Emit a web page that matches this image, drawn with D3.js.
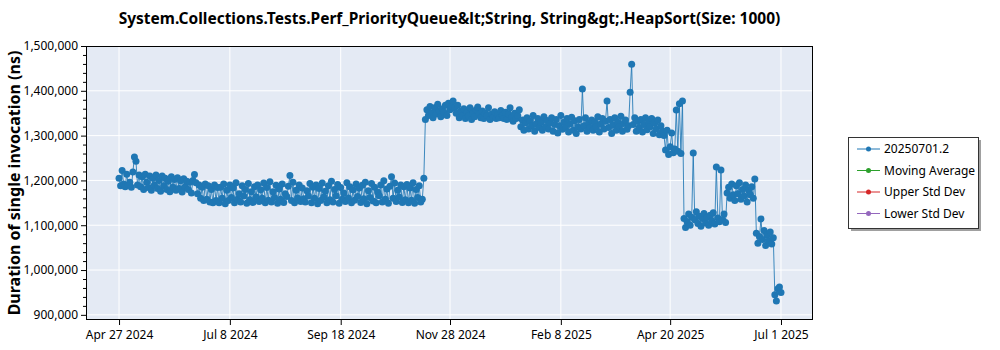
<!DOCTYPE html>
<html><head><meta charset="utf-8">
<script src="https://cdn.jsdelivr.net/npm/d3@7"></script>
<style>
body{margin:0;background:#fff;}
text{font-family:"Noto Sans","Open Sans",sans-serif;}
</style>
</head><body>
<svg id="chart" width="1000" height="350"></svg>
<script>
const chartTitle = "System.Collections.Tests.Perf_PriorityQueue&lt;String, String&gt;.HeapSort(Size: 1000)";
const yAxisTitle = "Duration of single invocation (ns)";
const seriesNames = ["20250701.2", "Moving Average", "Upper Std Dev", "Lower Std Dev"];
const seriesColors = ["#1f77b4", "#2ca02c", "#d62728", "#9467bd"];
const xTickDates = ["2024-04-27","2024-07-08","2024-09-18","2024-11-28","2025-02-08","2025-04-20","2025-07-01"];
const yTickValues = [900000,1000000,1100000,1200000,1300000,1400000,1500000];

const dates = [
"2024-04-27","2024-04-28","2024-04-29","2024-04-30",
"2024-05-01","2024-05-02","2024-05-03","2024-05-04","2024-05-05","2024-05-06","2024-05-07","2024-05-08","2024-05-09","2024-05-10","2024-05-11","2024-05-12","2024-05-13","2024-05-14","2024-05-15","2024-05-16","2024-05-17","2024-05-18","2024-05-19","2024-05-20","2024-05-21","2024-05-22","2024-05-23","2024-05-24","2024-05-25","2024-05-26","2024-05-27","2024-05-28","2024-05-29","2024-05-30","2024-05-31",
"2024-06-01","2024-06-02","2024-06-03","2024-06-04","2024-06-05","2024-06-06","2024-06-07","2024-06-08","2024-06-09","2024-06-10","2024-06-11","2024-06-12","2024-06-13","2024-06-14","2024-06-15","2024-06-16","2024-06-17","2024-06-18","2024-06-19","2024-06-20","2024-06-21","2024-06-22","2024-06-23","2024-06-24","2024-06-25","2024-06-26","2024-06-27","2024-06-28","2024-06-29","2024-06-30",
"2024-07-01","2024-07-02","2024-07-03","2024-07-04","2024-07-05","2024-07-06","2024-07-07","2024-07-08","2024-07-09","2024-07-10","2024-07-11","2024-07-12","2024-07-13","2024-07-14","2024-07-15","2024-07-16","2024-07-17","2024-07-18","2024-07-19","2024-07-20","2024-07-21","2024-07-22","2024-07-23","2024-07-24","2024-07-25","2024-07-26","2024-07-27","2024-07-28","2024-07-29","2024-07-30","2024-07-31",
"2024-08-01","2024-08-02","2024-08-03","2024-08-04","2024-08-05","2024-08-06","2024-08-07","2024-08-08","2024-08-09","2024-08-10","2024-08-11","2024-08-12","2024-08-13","2024-08-14","2024-08-15","2024-08-16","2024-08-17","2024-08-18","2024-08-19","2024-08-20","2024-08-21","2024-08-22","2024-08-23","2024-08-24","2024-08-25","2024-08-26","2024-08-27","2024-08-28","2024-08-29","2024-08-30","2024-08-31",
"2024-09-01","2024-09-02","2024-09-03","2024-09-04","2024-09-05","2024-09-06","2024-09-07","2024-09-08","2024-09-09","2024-09-10","2024-09-11","2024-09-12","2024-09-13","2024-09-14","2024-09-15","2024-09-16","2024-09-17","2024-09-18","2024-09-19","2024-09-20","2024-09-21","2024-09-22","2024-09-23","2024-09-24","2024-09-25","2024-09-26","2024-09-27","2024-09-28","2024-09-29","2024-09-30",
"2024-10-01","2024-10-02","2024-10-03","2024-10-04","2024-10-05","2024-10-06","2024-10-07","2024-10-08","2024-10-09","2024-10-10","2024-10-11","2024-10-12","2024-10-13","2024-10-14","2024-10-15","2024-10-16","2024-10-17","2024-10-18","2024-10-19","2024-10-20","2024-10-21","2024-10-22","2024-10-23","2024-10-24","2024-10-25","2024-10-26","2024-10-27","2024-10-28","2024-10-29","2024-10-30","2024-10-31",
"2024-11-01","2024-11-02","2024-11-03","2024-11-04","2024-11-05","2024-11-06","2024-11-07","2024-11-08","2024-11-09","2024-11-10","2024-11-11","2024-11-12","2024-11-13","2024-11-14","2024-11-15","2024-11-16","2024-11-17","2024-11-18","2024-11-19","2024-11-20","2024-11-21","2024-11-22","2024-11-23","2024-11-24","2024-11-25","2024-11-26","2024-11-27","2024-11-28","2024-11-29","2024-11-30",
"2024-12-01","2024-12-02","2024-12-03","2024-12-04","2024-12-05","2024-12-06","2024-12-07","2024-12-08","2024-12-09","2024-12-10","2024-12-11","2024-12-12","2024-12-13","2024-12-14","2024-12-15","2024-12-16","2024-12-17","2024-12-18","2024-12-19","2024-12-20","2024-12-21","2024-12-22","2024-12-23","2024-12-24","2024-12-25","2024-12-26","2024-12-27","2024-12-28","2024-12-29","2024-12-30","2024-12-31",
"2025-01-01","2025-01-02","2025-01-03","2025-01-04","2025-01-05","2025-01-06","2025-01-07","2025-01-08","2025-01-09","2025-01-10","2025-01-11","2025-01-12","2025-01-13","2025-01-14","2025-01-15","2025-01-16","2025-01-17","2025-01-18","2025-01-19","2025-01-20","2025-01-21","2025-01-22","2025-01-23","2025-01-24","2025-01-25","2025-01-26","2025-01-27","2025-01-28","2025-01-29","2025-01-30","2025-01-31",
"2025-02-01","2025-02-02","2025-02-03","2025-02-04","2025-02-05","2025-02-06","2025-02-07","2025-02-08","2025-02-09","2025-02-10","2025-02-11","2025-02-12","2025-02-13","2025-02-14","2025-02-15","2025-02-16","2025-02-17","2025-02-18","2025-02-19","2025-02-20","2025-02-21","2025-02-22","2025-02-23","2025-02-24","2025-02-25","2025-02-26","2025-02-27","2025-02-28",
"2025-03-01","2025-03-02","2025-03-03","2025-03-04","2025-03-05","2025-03-06","2025-03-07","2025-03-08","2025-03-09","2025-03-10","2025-03-11","2025-03-12","2025-03-13","2025-03-14","2025-03-15","2025-03-16","2025-03-17","2025-03-18","2025-03-19","2025-03-20","2025-03-21","2025-03-22","2025-03-23","2025-03-24","2025-03-25","2025-03-26","2025-03-27","2025-03-28","2025-03-29","2025-03-30","2025-03-31",
"2025-04-01","2025-04-02","2025-04-03","2025-04-04","2025-04-05","2025-04-06","2025-04-07","2025-04-08","2025-04-09","2025-04-10","2025-04-11","2025-04-12","2025-04-13","2025-04-14","2025-04-15","2025-04-16","2025-04-17","2025-04-18","2025-04-19","2025-04-20","2025-04-21","2025-04-22","2025-04-23","2025-04-24","2025-04-25","2025-04-26","2025-04-27","2025-04-28","2025-04-29","2025-04-30",
"2025-05-01","2025-05-02","2025-05-03","2025-05-04","2025-05-05","2025-05-06","2025-05-07","2025-05-08","2025-05-09","2025-05-10","2025-05-11","2025-05-12","2025-05-13","2025-05-14","2025-05-15","2025-05-16","2025-05-17","2025-05-18","2025-05-19","2025-05-20","2025-05-21","2025-05-22","2025-05-23","2025-05-24","2025-05-25","2025-05-26","2025-05-27","2025-05-28","2025-05-29","2025-05-30","2025-05-31",
"2025-06-01","2025-06-02","2025-06-03","2025-06-04","2025-06-05","2025-06-06","2025-06-07","2025-06-08","2025-06-09","2025-06-10","2025-06-11","2025-06-12","2025-06-13","2025-06-14","2025-06-15","2025-06-16","2025-06-17","2025-06-18","2025-06-19","2025-06-20","2025-06-21","2025-06-22","2025-06-23","2025-06-24","2025-06-25","2025-06-26","2025-06-27","2025-06-28","2025-06-29","2025-06-30",
"2025-07-01"
];

const values = [
1205000,1188000,1222000,1192000,
1186000,1214000,1190000,1196000,1185000,1219000,1252000,1243000,1190000,1212000,1186000,1208000,1180000,1214000,1196000,1184000,1210000,1178000,1205000,1190000,1212000,1182000,1200000,1176000,1210000,1188000,1205000,1180000,1198000,1175000,1208000,
1185000,1202000,1178000,1206000,1182000,1199000,1174000,1204000,1186000,1198000,1180000,1196000,1172000,1200000,1213000,1195000,1170000,1190000,1160000,1185000,1155000,1192000,1158000,1188000,1152000,1180000,1150000,1190000,1155000,1184000,
1150000,1185000,1160000,1192000,1148000,1178000,1155000,1190000,1162000,1183000,1150000,1195000,1158000,1170000,1152000,1188000,1165000,1180000,1149000,1193000,1157000,1175000,1151000,1186000,1163000,1190000,1153000,1179000,1160000,1194000,1150000,
1184000,1156000,1197000,1152000,1175000,1162000,1189000,1149000,1181000,1158000,1192000,1151000,1170000,1164000,1187000,1211000,1155000,1196000,1150000,1178000,1161000,1190000,1153000,1183000,1159000,1152000,1177000,1165000,1193000,1150000,1185000,
1160000,1190000,1148000,1182000,1155000,1194000,1163000,1176000,1150000,1188000,1157000,1198000,1152000,1180000,1166000,1191000,1149000,1184000,1158000,1172000,1153000,1195000,1161000,1186000,1150000,1179000,1156000,1192000,1164000,1183000,
1151000,1189000,1159000,1196000,1148000,1177000,1162000,1193000,1154000,1185000,1150000,1174000,1166000,1190000,1152000,1199000,1158000,1181000,1149000,1187000,1208000,1160000,1194000,1153000,1178000,1163000,1190000,1151000,1186000,1157000,1191000,
1150000,1183000,1156000,1195000,1149000,1180000,1162000,1188000,1152000,1158000,1205000,1336000,1358000,1345000,1365000,1350000,1340000,1362000,1348000,1370000,1355000,1342000,1360000,1352000,1368000,1345000,1372000,1358000,1366000,1377000,
1362000,1350000,1368000,1340000,1355000,1345000,1360000,1338000,1352000,1344000,1362000,1336000,1350000,1342000,1358000,1364000,1348000,1340000,1355000,1338000,1350000,1345000,1362000,1336000,1348000,1341000,1353000,1338000,1346000,1340000,1356000,
1345000,1338000,1352000,1336000,1348000,1362000,1340000,1332000,1350000,1338000,1345000,1358000,1320000,1335000,1312000,1328000,1340000,1315000,1332000,1322000,1345000,1310000,1326000,1338000,1318000,1330000,1312000,1342000,1320000,1334000,1315000,
1328000,1340000,1310000,1325000,1336000,1306000,1322000,1345000,1314000,1330000,1318000,1338000,1308000,1326000,1341000,1312000,1333000,1305000,1320000,1336000,1315000,1404000,1322000,1340000,1310000,1328000,1318000,1335000,
1312000,1330000,1320000,1342000,1308000,1326000,1338000,1315000,1332000,1377000,1318000,1336000,1305000,1324000,1340000,1312000,1330000,1320000,1343000,1310000,1327000,1335000,1314000,1322000,1397000,1459000,1325000,1340000,1310000,1332000,1318000,
1336000,1308000,1325000,1340000,1313000,1330000,1320000,1338000,1305000,1328000,1315000,1335000,1302000,1322000,1310000,1300000,1268000,1312000,1258000,1275000,1306000,1262000,1270000,1357000,1265000,1371000,1260000,1377000,1115000,1095000,
1108000,1125000,1100000,1118000,1261000,1112000,1130000,1104000,1120000,1098000,1115000,1126000,1105000,1118000,1100000,1122000,1110000,1128000,1103000,1230000,1116000,1108000,1223000,1112000,1125000,1106000,1172000,1185000,1160000,1192000,1168000,
1155000,1188000,1170000,1195000,1158000,1180000,1165000,1190000,1152000,1178000,1168000,1186000,1160000,1203000,1082000,1060000,1075000,1114000,1068000,1088000,1055000,1078000,1065000,1085000,1058000,1072000,945000,931000,958000,962000,
950000
];

const parse = d3.utcParse("%Y-%m-%d");
const data = dates.map((d, i) => ({ date: parse(d), value: values[i] }));

const svg = d3.select("#chart");
const L = 86, R = 813, T = 46, B = 320;

const x = d3.scaleUtc()
  .domain([new Date(Date.UTC(2024, 3, 5, 13)), new Date(Date.UTC(2025, 6, 21, 19))])
  .range([L, R]);
const y = d3.scaleLinear().domain([888500, 1500000]).range([B, T]);

// background
svg.append("rect").attr("x", L).attr("y", T).attr("width", R - L).attr("height", B - T).attr("fill", "#e4eaf4");

const xTicks = xTickDates.map(parse);

// grid
const grid = svg.append("g");
grid.selectAll(".gx").data(xTicks).join("line")
  .attr("x1", d => x(d)).attr("x2", d => x(d)).attr("y1", T).attr("y2", B)
  .attr("stroke", "#fff").attr("stroke-width", 1);
grid.selectAll(".gy").data(yTickValues).join("line")
  .attr("x1", L).attr("x2", R).attr("y1", d => y(d)).attr("y2", d => y(d))
  .attr("stroke", "#fff").attr("stroke-width", 1);

// clip
svg.append("clipPath").attr("id", "clip").append("rect")
  .attr("x", L).attr("y", T).attr("width", R - L).attr("height", B - T);

const plot = svg.append("g").attr("clip-path", "url(#clip)");
const line = d3.line().x(d => x(d.date)).y(d => y(d.value));
plot.append("path").datum(data).attr("d", line)
  .attr("fill", "none").attr("stroke", seriesColors[0]).attr("stroke-width", 1).attr("stroke-opacity", 0.85);
plot.selectAll("circle").data(data).join("circle")
  .attr("cx", d => x(d.date)).attr("cy", d => y(d.value)).attr("r", 3.5)
  .attr("fill", seriesColors[0]);

// border
svg.append("rect").attr("x", L + 0.5).attr("y", T + 0.5).attr("width", R - L - 1).attr("height", B - T - 1)
  .attr("fill", "none").attr("stroke", "#000").attr("stroke-width", 1);

// axes
const fmtY = d3.format(",");
const yAxis = d3.axisLeft(y).tickValues(yTickValues).tickFormat(fmtY).tickSize(5).tickSizeOuter(0);
const gy = svg.append("g").attr("transform", `translate(${L},0)`).call(yAxis);
gy.select(".domain").remove();
gy.selectAll("text").attr("font-size", 12).attr("fill", "#000").attr("x", -8);
const minorY = d3.range(900000, 1500001, 20000).filter(v => v % 100000 !== 0);
const yMinor = d3.axisLeft(y).tickValues(minorY).tickFormat("").tickSize(3);
const gym = svg.append("g").attr("transform", `translate(${L},0)`).call(yMinor);
gym.select(".domain").remove();

const xAxis = d3.axisBottom(x).tickValues(xTicks).tickFormat(d3.utcFormat("%b %-d %Y")).tickSize(5).tickSizeOuter(0);
const gx = svg.append("g").attr("transform", `translate(0,${B})`).call(xAxis);
gx.select(".domain").remove();
gx.selectAll("text").attr("font-size", 12).attr("fill", "#000").attr("dy", "0.95em");

// titles
svg.append("text").attr("x", (L + R) / 2).attr("y", 24).attr("text-anchor", "middle")
  .attr("font-size", 15.5).attr("font-weight", "bold").text(chartTitle);
svg.append("text").attr("transform", `translate(20,${(T + B) / 2}) rotate(-90)`).attr("text-anchor", "middle")
  .attr("font-size", 16).attr("font-weight", "bold").text(yAxisTitle);

// legend
const lg = svg.append("g");
lg.append("rect").attr("x", 851).attr("y", 140).attr("width", 130).attr("height", 91).attr("fill", "#a0a0a0");
lg.append("rect").attr("x", 848.5).attr("y", 137.5).attr("width", 130).attr("height", 91)
  .attr("fill", "#fff").attr("stroke", "#333").attr("stroke-width", 1);
seriesNames.forEach((name, i) => {
  const yy = 149 + i * 21.5;
  lg.append("line").attr("x1", 857).attr("x2", 880).attr("y1", yy).attr("y2", yy)
    .attr("stroke", seriesColors[i]).attr("stroke-width", 1);
  lg.append("circle").attr("cx", 868.5).attr("cy", yy).attr("r", 2.5).attr("fill", seriesColors[i]);
  lg.append("text").attr("x", 884).attr("y", yy + 4).attr("font-size", 12).attr("fill", "#000").text(name);
});
</script>
</body></html>
